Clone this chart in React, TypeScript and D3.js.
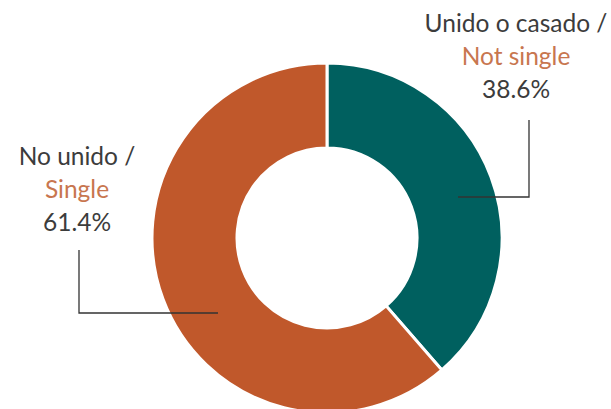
import React from 'react';
import * as d3 from 'd3';

// Slices, clockwise from 12 o'clock
const categories = ['Unido o casado / Not single', 'No unido / Single'];
const labelsEs = ['Unido o casado /', 'No unido /'];
const labelsEn = ['Not single', 'Single'];
const shares = [38.6, 61.4];
const colors = ['#00605f', '#c0582b'];

const WIDTH = 611;
const HEIGHT = 409;
const CX = 327;
const CY = 238;
const R_OUT = 175;
const R_IN = 90;

const textDark = '#3c3c3c';
const textOrange = '#c8764f';

// label layout: anchor x, first baseline, and the leader polyline
const labelLayout = [
  { x: 516, y: 32, leader: [[529, 120], [529, 197], [458, 197]] },
  { x: 77, y: 165, leader: [[79, 250], [79, 313], [218, 313]] },
];

const App: React.FC = () => {
  const pie = d3
    .pie<number>()
    .sort(null)
    .value((d) => d);
  const arcs = pie(shares);
  const arc = d3.arc<d3.PieArcDatum<number>>().innerRadius(R_IN).outerRadius(R_OUT);
  const line = d3.line();

  return (
    <svg
      width={WIDTH}
      height={HEIGHT}
      style={{ position: 'absolute', left: 0, top: 0, background: '#fff' }}
      fontFamily="Lato, 'Open Sans', sans-serif"
    >
      <g transform={`translate(${CX},${CY})`}>
        {arcs.map((a, i) => (
          <path key={categories[i]} d={arc(a) || ''} fill={colors[i]} stroke="#fff" strokeWidth={3} />
        ))}
      </g>
      {labelLayout.map((l, i) => (
        <g key={categories[i]}>
          <path
            d={line(l.leader as [number, number][]) || ''}
            fill="none"
            stroke="#333"
            strokeWidth={1.3}
          />
          <text x={l.x} y={l.y} textAnchor="middle" fontSize={24.5}>
            <tspan x={l.x} fill={textDark}>{labelsEs[i]}</tspan>
            <tspan x={l.x} dy={33} fill={textOrange}>{labelsEn[i]}</tspan>
            <tspan x={l.x} dy={33} fill={textDark}>{`${shares[i].toFixed(1)}%`}</tspan>
          </text>
        </g>
      ))}
    </svg>
  );
};

export default App;
